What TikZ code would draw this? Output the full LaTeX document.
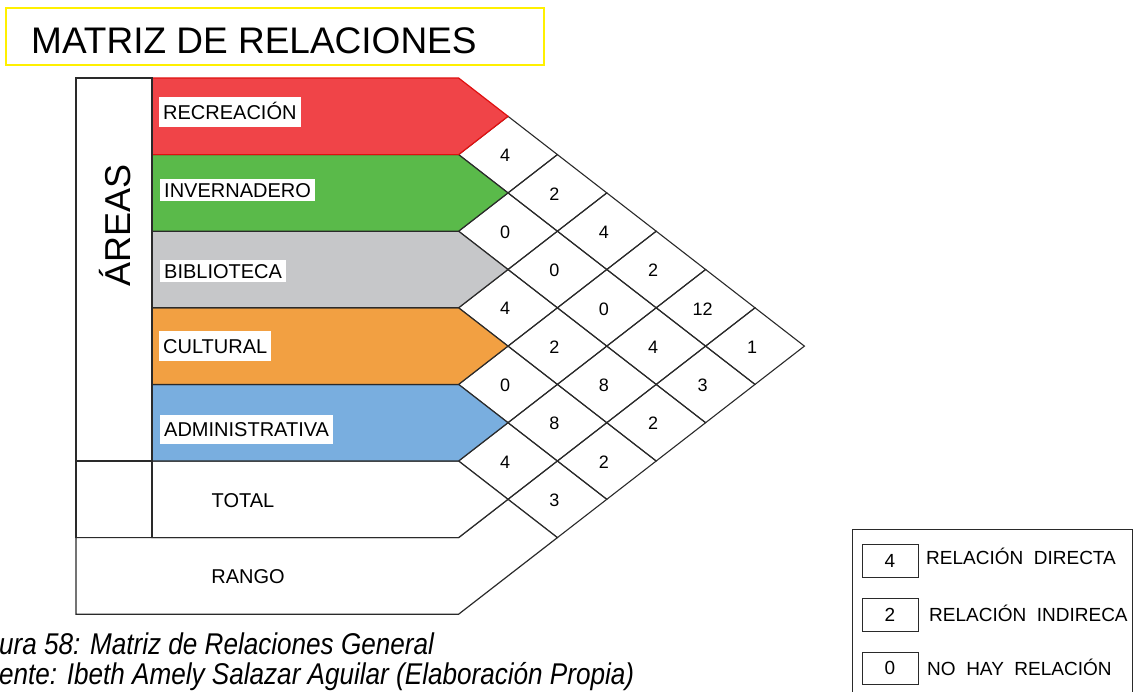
\documentclass[tikz,border=0pt]{standalone}
\usepackage{fontspec}
\setmainfont{Liberation Sans}
\newfontfamily\capfont{Liberation Sans}[FakeStretch=0.87]
\definecolor{recc}{HTML}{F04448}
\definecolor{recb}{HTML}{E01010}
\definecolor{grnc}{HTML}{5ABA4A}
\definecolor{grayc}{HTML}{C6C7C9}
\definecolor{orgc}{HTML}{F2A042}
\definecolor{bluc}{HTML}{79AEDF}
\definecolor{linec}{HTML}{2A2A2A}
\definecolor{titley}{HTML}{FFF000}
\begin{document}
\begin{tikzpicture}[x=1pt,y=-1pt,
  gridline/.style={draw=linec,line width=1.1pt,line join=miter},
  rowshape/.style={line width=1.2pt,line join=miter},
  rowlabel/.style={fill=white,inner xsep=4pt,inner ysep=0pt,anchor=west,font=\fontsize{20}{20}\selectfont,text height=14.5pt,text depth=0pt},
  plainlabel/.style={inner sep=0pt,font=\fontsize{20}{20}\selectfont},
  num/.style={inner sep=0pt,font=\fontsize{18}{18}\selectfont},
  legtext/.style={inner sep=0pt,anchor=base west,font=\fontsize{19}{19}\selectfont},
  legbox/.style={draw=linec,line width=0.9pt},
  captext/.style={inner sep=0pt,anchor=base west,font=\capfont\itshape\fontsize{30}{30}\selectfont}]
\clip (0,0) rectangle (1137,691);
\fill[white] (0,0) rectangle (1137,691);
% title
\draw[titley,line width=1.8pt] (6,8) rectangle (544,65);
\node[inner sep=0pt,anchor=base west,font=\fontsize{37}{37}\selectfont] (title) at (31,53) {MATRIZ DE RELACIONES};
% matrix cells
\foreach \i/\j/\v in {0/0/4,1/0/2,1/1/0,2/0/4,2/1/0,2/2/4,3/0/2,3/1/0,3/2/2,3/3/0,4/0/12,4/1/4,4/2/8,4/3/8,4/4/4,5/0/1,5/1/3,5/2/2,5/3/2,5/4/3}{
  \pgfmathsetmacro\cx{508+49.4*(\i-\j)}
  \pgfmathsetmacro\cy{116.3+38.3*(\i+\j+1)}
  \draw[gridline] ({\cx-49.4},\cy) -- (\cx,{\cy-38.3}) -- ({\cx+49.4},\cy) -- (\cx,{\cy+38.3}) -- cycle;
  \node[num] (c\i\j) at ({\cx-3},{\cy+1}) {\v};
}
% rango
\draw[rowshape,draw=linec,fill=white] (76,537.6) -- (458.6,537.6) -- (508,499.3) -- (557.4,537.6) -- (458.6,614.2) -- (76,614.2) -- cycle;
% rows (drawn bottom to top so the red border stays on top)
\foreach \k/\fc/\bc in {5/white/linec,4/bluc/linec,3/orgc/linec,2/grayc/linec,1/grnc/linec,0/recc/recb}{
  \pgfmathsetmacro\ta{78+76.6*\k}
  \pgfmathsetmacro\mi{\ta+38.3}
  \pgfmathsetmacro\bo{\ta+76.6}
  \draw[rowshape,draw=\bc,fill=\fc] (152,\ta) -- (458.6,\ta) -- (508,\mi) -- (458.6,\bo) -- (152,\bo) -- cycle;
}
% left column
\draw[rowshape,draw=linec] (76,78) rectangle (152,461);
\draw[rowshape,draw=linec] (76,461) rectangle (152,537.6);
\node[inner sep=0pt,rotate=90,font=\fontsize{36}{36}\selectfont] (areas) at (115,225) {ÁREAS};
% row labels
\node[rowlabel,minimum height=30pt] (rec) at (159,112) {RECREACIÓN};
\node[rowlabel,minimum height=22pt] (inv) at (160,190) {INVERNADERO};
\node[rowlabel,minimum height=22pt] (bib) at (160,271) {BIBLIOTECA};
\node[rowlabel,minimum height=30pt] (cul) at (159,346) {CULTURAL};
\node[rowlabel,minimum height=29pt] (adm) at (160,429.5) {ADMINISTRATIVA};
\node[plainlabel] (tot) at (243,500.5) {TOTAL};
\node[plainlabel] (ran) at (248,577) {RANGO};
% legend
\draw[legbox] (852,529) -- (852,700);
\draw[legbox] (852,529) -- (1132,529) -- (1132,700);
\node[legbox,minimum width=56pt,minimum height=33pt,inner sep=0pt,font=\fontsize{19}{19}\selectfont] (l4) at (890,560.5) {4};
\node[legbox,minimum width=56pt,minimum height=33pt,inner sep=0pt,font=\fontsize{19}{19}\selectfont] (l2) at (890,614.5) {2};
\node[legbox,minimum width=56pt,minimum height=32pt,inner sep=0pt,font=\fontsize{19}{19}\selectfont] (l0) at (890,668) {0};
\node[legtext] (t4) at (926,564) {RELACIÓN\ \ DIRECTA};
\node[legtext] (t2) at (929,621) {RELACIÓN\ \ INDIRECA};
\node[legtext] (t0) at (927,675) {NO\ \ HAY\ \ RELACIÓN};
% caption
\node[captext] (cap1) at (-1,654) {ura 58: Matriz de Relaciones General};
\node[captext] (cap2) at (-1,684) {ente: Ibeth Amely Salazar Aguilar (Elaboración Propia)};
\end{tikzpicture}
\end{document}
